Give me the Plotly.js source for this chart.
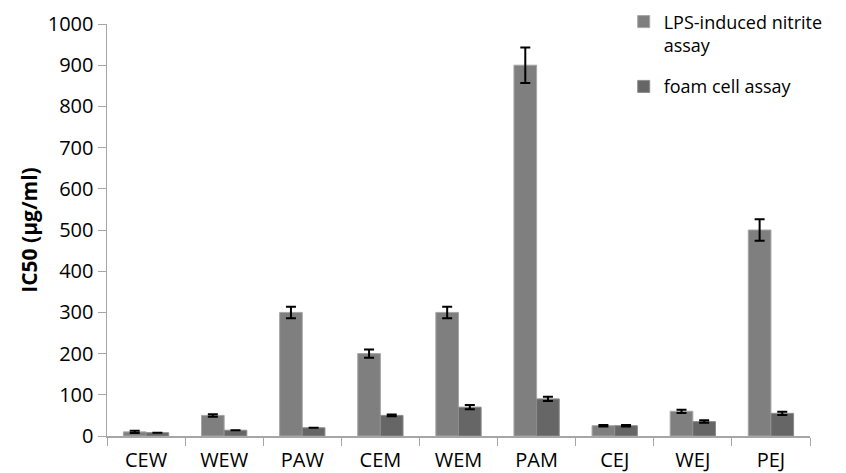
<!DOCTYPE html>
<html>
<head>
<meta charset="utf-8">
<script src="https://cdn.plot.ly/plotly-3.0.1.min.js"></script>
<style>html,body{margin:0;padding:0;background:#fff;}#chart{width:846px;height:473px;}</style>
</head>
<body>
<div id="chart"></div>
<script>
// Extract codes along the x axis
const categories = ["CEW", "WEW", "PAW", "CEM", "WEM", "PAM", "CEJ", "WEJ", "PEJ"];

// IC50 values (µg/ml) and their error bars
const nitriteValues = [10, 50, 300, 200, 300, 900, 25, 60, 500];
const nitriteErrors = [3, 3, 14, 10, 14, 43, 2, 4, 26];
const foamValues = [8, 14, 20, 50, 70, 90, 25, 35, 55];
const foamErrors = [0, 0, 0, 2, 5, 5, 2, 3, 4];

const yTicks = [0, 100, 200, 300, 400, 500, 600, 700, 800, 900, 1000];

const font = "'Open Sans', 'Noto Sans', sans-serif";

const traces = [
  {
    type: "bar",
    name: "LPS-induced nitrite<br>assay",
    legendgroup: "nitrite",
    x: categories,
    y: nitriteValues,
    marker: {color: "#7f7f7f", line: {color: "#a6a6a6", width: 1}},
    error_y: {type: "data", array: nitriteErrors, visible: true, color: "#000", thickness: 2, width: 5}
  },
  {
    type: "bar",
    name: "foam cell assay",
    legendgroup: "foam",
    x: categories,
    y: foamValues,
    marker: {color: "#666666", line: {color: "#8c8c8c", width: 1}},
    error_y: {type: "data", array: foamErrors, visible: true, color: "#000", thickness: 2, width: 5}
  }
];

const layout = {
  width: 846,
  height: 473,
  margin: {l: 107, r: 36, t: 24, b: 37, autoexpand: false},
  paper_bgcolor: "#fff",
  plot_bgcolor: "#fff",
  barmode: "group",
  bargap: 0.42,
  bargroupgap: 0,
  font: {family: font, color: "#000", size: 20},
  xaxis: {
    type: "category",
    showline: true,
    linecolor: "#a6a6a6",
    linewidth: 1.5,
    ticks: "outside",
    tickson: "boundaries",
    ticklen: 8,
    tickcolor: "#a6a6a6",
    ticklabelstandoff: 5,
    tickfont: {family: font, size: 20, color: "#000"},
    showgrid: false,
    zeroline: false
  },
  yaxis: {
    range: [0, 1000],
    tickvals: yTicks,
    ticktext: yTicks.map(String),
    showline: true,
    linecolor: "#a6a6a6",
    linewidth: 1.5,
    ticks: "outside",
    ticklen: 8,
    tickcolor: "#a6a6a6",
    tickfont: {family: font, size: 20, color: "#000"},
    showgrid: false,
    zeroline: false,
    title: {text: "<b>IC50 (µg/ml)</b>", font: {family: font, size: 21, color: "#000"}, standoff: 4}
  },
  legend: {
    x: 0.735,
    y: 1.05,
    xanchor: "left",
    yanchor: "top",
    valign: "top",
    traceorder: "grouped",
    bgcolor: "rgba(0,0,0,0)",
    font: {family: font, size: 18, color: "#000"},
    itemwidth: 30,
    tracegroupgap: 15
  },
  showlegend: true
};

Plotly.newPlot("chart", traces, layout, {displayModeBar: false, staticPlot: true});
</script>
</body>
</html>
